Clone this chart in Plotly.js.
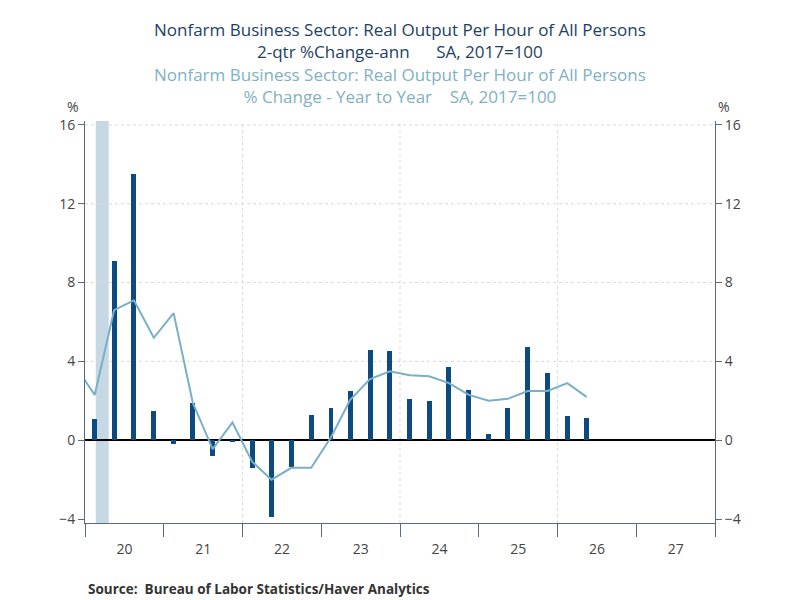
<!DOCTYPE html>
<html>
<head>
<meta charset="utf-8">
<script src="https://cdn.plot.ly/plotly-3.0.1.min.js"></script>
<style>
  html, body { margin: 0; padding: 0; background: #fff; }
  #chart { width: 800px; height: 600px; }
</style>
</head>
<body>
<div id="chart"></div>
<script>
// 2-qtr % change annualized (bars), from 2020Q1
const barQuarters = ['2020Q1','2020Q2','2020Q3','2020Q4','2021Q1','2021Q2','2021Q3','2021Q4',
  '2022Q1','2022Q2','2022Q3','2022Q4','2023Q1','2023Q2','2023Q3','2023Q4',
  '2024Q1','2024Q2','2024Q3','2024Q4','2025Q1','2025Q2','2025Q3','2025Q4','2026Q1','2026Q2'];
const barValues = [1.1, 9.1, 13.5, 1.5, -0.2, 1.9, -0.8, -0.1,
  -1.4, -3.9, -1.35, 1.3, 1.65, 2.5, 4.6, 4.55,
  2.1, 2.0, 3.7, 2.55, 0.3, 1.65, 4.75, 3.4, 1.25, 1.15];

// % change year to year (line), from 2019Q4
const lineQuarters = ['2019Q4','2020Q1','2020Q2','2020Q3','2020Q4','2021Q1','2021Q2','2021Q3','2021Q4',
  '2022Q1','2022Q2','2022Q3','2022Q4','2023Q1','2023Q2','2023Q3','2023Q4',
  '2024Q1','2024Q2','2024Q3','2024Q4','2025Q1','2025Q2','2025Q3','2025Q4','2026Q1','2026Q2'];
const lineValues = [3.8, 2.3, 6.6, 7.1, 5.2, 6.45, 1.9, -0.45, 0.9,
  -1.1, -2.0, -1.4, -1.4, 0.15, 2.05, 3.1, 3.5,
  3.3, 3.25, 2.9, 2.3, 2.0, 2.1, 2.5, 2.5, 2.9, 2.2];

const yearTicks = [2022, 2024, 2026];
const yGrid = [4, 8, 12, 16];

function midQuarter(q) {
  const yr = q.slice(0, 4);
  const m = ['02', '05', '08', '11'][+q[5] - 1];
  return yr + '-' + m + '-15';
}

const axisColor = '#5b6b7b';
const gridColor = '#d9d9d9';
const tickFont = { family: 'Open Sans, sans-serif', size: 14, color: '#444' };

const bars = {
  x: barQuarters.map(midQuarter),
  y: barValues,
  type: 'bar',
  width: 23 * 86400000,
  marker: { color: '#0d4a80' }
};

const line = {
  x: lineQuarters.map(midQuarter),
  y: lineValues,
  type: 'scatter',
  mode: 'lines',
  yaxis: 'y2',
  line: { color: '#79b0c7', width: 2 }
};

const shapes = [{
  type: 'rect', xref: 'x', yref: 'paper',
  x0: '2020-02-20', x1: '2020-04-20', y0: 0, y1: 1,
  fillcolor: '#c6d8e3', line: { width: 0 }, layer: 'below'
}];
yGrid.forEach(v => shapes.push({
  type: 'line', xref: 'paper', yref: 'y', x0: 0, x1: 1, y0: v, y1: v,
  line: { color: gridColor, width: 1, dash: '3px,3px' }, layer: 'below'
}));
yearTicks.forEach(yr => shapes.push({
  type: 'line', xref: 'x', yref: 'paper', x0: yr + '-01-01', x1: yr + '-01-01', y0: 0, y1: 1,
  line: { color: gridColor, width: 1, dash: '3px,3px' }, layer: 'below'
}));

const titleFont = 'Open Sans, sans-serif';
const annotations = [
  { text: 'Nonfarm Business Sector: Real Output Per Hour of All Persons<br>2-qtr %Change-ann      SA, 2017=100',
    y: 1.2, color: '#1c3f66' },
  { text: 'Nonfarm Business Sector: Real Output Per Hour of All Persons<br>% Change - Year to Year    SA, 2017=100',
    y: 1.088, color: '#7fb0c4' }
].map(a => ({
  text: a.text, xref: 'paper', yref: 'paper', x: 0.5, y: a.y,
  xanchor: 'center', yanchor: 'middle', align: 'center', showarrow: false,
  font: { family: titleFont, size: 17, color: a.color }
}));
annotations.push(
  { text: '%', xref: 'paper', yref: 'paper', x: -0.019, y: 1.037, showarrow: false,
    xanchor: 'center', yanchor: 'middle', font: tickFont },
  { text: '%', xref: 'paper', yref: 'paper', x: 1.014, y: 1.037, showarrow: false,
    xanchor: 'center', yanchor: 'middle', font: tickFont },
  { text: '<b>Source:  Bureau of Labor Statistics/Haver Analytics</b>', xref: 'paper', yref: 'paper',
    x: 0.002, y: -0.164, xanchor: 'left', yanchor: 'middle', showarrow: false,
    font: { family: titleFont, size: 13.5, color: '#333' } }
);

const yCommon = {
  range: [-4.2, 16.2],
  tickvals: [-4, 0, 4, 8, 12, 16],
  ticks: 'outside', ticklen: 6, tickcolor: axisColor,
  showline: true, linecolor: axisColor, linewidth: 1,
  showgrid: false,
  tickfont: tickFont
};

const layout = {
  width: 800, height: 600,
  margin: { l: 85, r: 85, t: 121, b: 77 },
  paper_bgcolor: '#fff', plot_bgcolor: '#fff',
  showlegend: false,
  bargap: 0,
  xaxis: {
    type: 'date',
    range: ['2020-01-01', '2028-01-01'],
    tick0: '2020-01-01', dtick: 'M12',
    ticklabelmode: 'period', tickformat: '%y',
    ticks: 'outside', ticklen: 13, tickcolor: axisColor,
    showline: true, linecolor: axisColor, linewidth: 1,
    showgrid: false, zeroline: false,
    tickfont: tickFont
  },
  yaxis: Object.assign({}, yCommon, {
    zeroline: true, zerolinecolor: '#000', zerolinewidth: 1.5
  }),
  yaxis2: Object.assign({}, yCommon, {
    overlaying: 'y', side: 'right', zeroline: false
  }),
  shapes: shapes,
  annotations: annotations
};

Plotly.newPlot('chart', [bars, line], layout, { displayModeBar: false, staticPlot: true });
</script>
</body>
</html>
